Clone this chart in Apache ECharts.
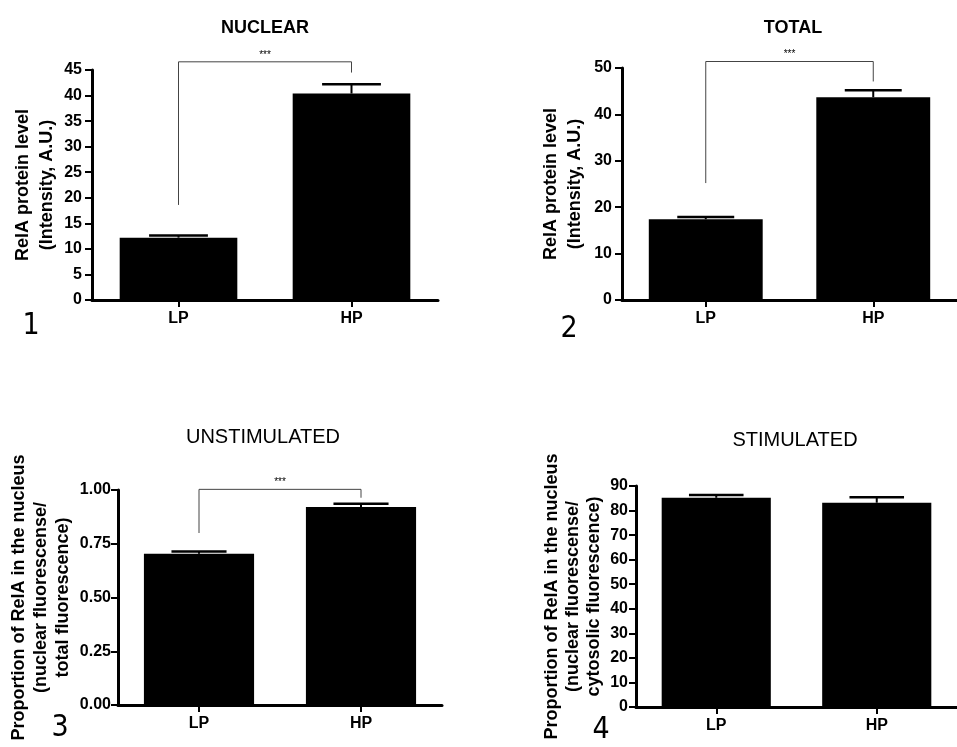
<!DOCTYPE html>
<html>
<head>
<meta charset="utf-8">
<script src="https://cdn.jsdelivr.net/npm/echarts@6/dist/echarts.min.js"></script>
<style>html,body{margin:0;padding:0;background:#fff;}#c{width:957px;height:747px;}</style>
</head>
<body>
<div id="c"></div>
<script>
// ---- data ----
const categories = ['LP', 'HP'];

const nuclearMeans = [12.2, 40.4];
const nuclearSem = [0.4, 1.8];
const nuclearBracket = [46.6, 18.6, 44.5]; // top, left drop end, right drop end
const nuclearTicks = { min: 0, max: 45, interval: 5 };

const totalMeans = [17.4, 43.7];
const totalSem = [0.5, 1.5];
const totalBracket = [51.4, 25.2, 47.1];
const totalTicks = { min: 0, max: 50, interval: 10 };

const unstimMeans = [0.704, 0.921];
const unstimSem = [0.01, 0.015];
const unstimBracket = [1.003, 0.80, 0.964];
const unstimTicks = { min: 0, max: 1, interval: 0.25 };

const stimMeans = [85.2, 83.2];
const stimSem = [1.1, 2.2];
const stimTicks = { min: 0, max: 90, interval: 10 };

const panelTitles = ['NUCLEAR', 'TOTAL', 'UNSTIMULATED', 'STIMULATED'];
const panelNumbers = ['1', '2', '3', '4'];
const yNames = [
  'RelA protein level\n(Intensity, A.U.)',
  'RelA protein level\n(Intensity, A.U.)',
  'Proportion of RelA in the nucleus\n(nuclear fluorescense/\ntotal fluorescence)',
  'Proportion of RelA in the nucleus\n(nuclear fluorescense/\ncytosolic fluorescence)'
];
const sigLabel = '***';

// ---- layout ----
const FONT = "'Liberation Sans', Arial, sans-serif";
const grids = [
  { left: 92, top: 70, width: 346, height: 230 },
  { left: 622, top: 68, width: 345, height: 232 },
  { left: 118, top: 490, width: 324, height: 215 },
  { left: 636, top: 486, width: 332, height: 221 }
];
const yNameCfg = [
  { gap: 33, lh: 24 },
  { gap: 35, lh: 24 },
  { gap: 44, lh: 22 },
  { gap: 31, lh: 21 }
];
const yLabelMargin = [10, 10, 7, 8];
const ticks = [nuclearTicks, totalTicks, unstimTicks, stimTicks];
const means = [nuclearMeans, totalMeans, unstimMeans, stimMeans];
const sems = [nuclearSem, totalSem, unstimSem, stimSem];
const brackets = [nuclearBracket, totalBracket, unstimBracket, null];
const BAR_FRAC = 0.68;

function errRender(params, api) {
  const x = api.value(0), m = api.value(1), e = api.value(2);
  const p0 = api.coord([x, m]);
  const p1 = api.coord([x, e]);
  const band = api.size([1, 0])[0];
  const hw = band * BAR_FRAC * 0.25;
  return {
    type: 'group',
    children: [
      { type: 'line', shape: { x1: p0[0], y1: p0[1], x2: p1[0], y2: p1[1] }, style: { stroke: '#000', lineWidth: 2 } },
      { type: 'line', shape: { x1: p1[0] - hw, y1: p1[1], x2: p1[0] + hw, y2: p1[1] }, style: { stroke: '#000', lineWidth: 2.5 } }
    ]
  };
}

function bracketRender(params, api) {
  const top = api.value(0), lEnd = api.value(1), rEnd = api.value(2);
  const a = api.coord([0, lEnd]);
  const b = api.coord([0, top]);
  const c = api.coord([1, top]);
  const d = api.coord([1, rEnd]);
  return {
    type: 'group',
    children: [
      { type: 'polyline', shape: { points: [a, b, c, d] }, style: { stroke: '#444', lineWidth: 1, fill: null } },
      { type: 'text', x: (b[0] + c[0]) / 2, y: b[1] - 2,
        style: { text: sigLabel, fill: '#000', font: '10px ' + FONT, align: 'center', verticalAlign: 'bottom' } }
    ]
  };
}

const xAxes = [], yAxes = [], series = [];
for (let i = 0; i < 4; i++) {
  xAxes.push({
    type: 'category', gridIndex: i, data: categories,
    axisLine: { show: true, lineStyle: { color: '#000', width: 3, opacity: 1 } },
    axisTick: { show: true, alignWithLabel: true, length: 7, lineStyle: { color: '#000', width: 2, opacity: 1 } },
    axisLabel: { color: '#000', fontWeight: 'bold', fontSize: 16, fontFamily: FONT, margin: 11 }
  });
  const fmt = i === 2 ? (v => '{b|' + v.toFixed(2) + '}') : (v => '{b|' + v + '}');
  yAxes.push({
    type: 'value', gridIndex: i, min: ticks[i].min, max: ticks[i].max, interval: ticks[i].interval,
    axisLine: { show: true, lineStyle: { color: '#000', width: 3, opacity: 1 } },
    axisTick: { show: true, length: 7, lineStyle: { color: '#000', width: 2, opacity: 1 } },
    splitLine: { show: false },
    axisLabel: {
      color: '#000', fontWeight: 'bold', fontSize: 16, fontFamily: FONT, margin: yLabelMargin[i],
      formatter: fmt,
      rich: { b: { color: '#000', fontWeight: 'bold', fontSize: 16, fontFamily: FONT } }
    },
    name: yNames[i], nameLocation: 'middle', nameRotate: 90, nameGap: yNameCfg[i].gap,
    nameTextStyle: { color: '#000', fontWeight: 'bold', fontSize: 18, fontFamily: FONT, lineHeight: yNameCfg[i].lh, align: 'center' }
  });
  series.push({
    type: 'bar', xAxisIndex: i, yAxisIndex: i, data: means[i],
    barCategoryGap: ((1 - BAR_FRAC) * 100) + '%',
    itemStyle: { color: '#000' }, silent: true, z: 1
  });
  series.push({
    type: 'custom', xAxisIndex: i, yAxisIndex: i, renderItem: errRender, clip: false, z: 3,
    data: categories.map((c, k) => [k, means[i][k], means[i][k] + sems[i][k]]),
    encode: { x: 0, y: [1, 2] }, silent: true
  });
  if (brackets[i]) {
    series.push({
      type: 'custom', xAxisIndex: i, yAxisIndex: i, renderItem: bracketRender, clip: false, z: 4,
      data: [brackets[i]], encode: { y: [0, 1, 2] }, silent: true
    });
  }
}

const titlePos = [[265, 28], [793, 28], [263, 437], [795, 440]];
const titleFont = ['bold 18px ' + FONT, 'bold 18px ' + FONT, '20px ' + FONT, '20px ' + FONT];
const numPos = [[31, 326], [569, 329], [60, 728], [601, 730]];
const graphics = [];
for (let i = 0; i < 4; i++) {
  graphics.push({ type: 'text', x: titlePos[i][0], y: titlePos[i][1],
    style: { text: panelTitles[i], font: titleFont[i], fill: '#000', align: 'center', verticalAlign: 'middle' } });
  graphics.push({ type: 'text', x: numPos[i][0], y: numPos[i][1],
    style: { text: panelNumbers[i], font: "30px 'Liberation Sans Narrow', 'DejaVu Sans Condensed', sans-serif", fill: '#000', align: 'center', verticalAlign: 'middle' } });
}

const chart = echarts.init(document.getElementById('c'), null, { renderer: 'canvas' });
chart.setOption({
  animation: false,
  backgroundColor: '#fff',
  grid: grids.map(g => Object.assign({ containLabel: false }, g)),
  xAxis: xAxes,
  yAxis: yAxes,
  series: series,
  graphic: graphics
});
</script>
</body>
</html>
